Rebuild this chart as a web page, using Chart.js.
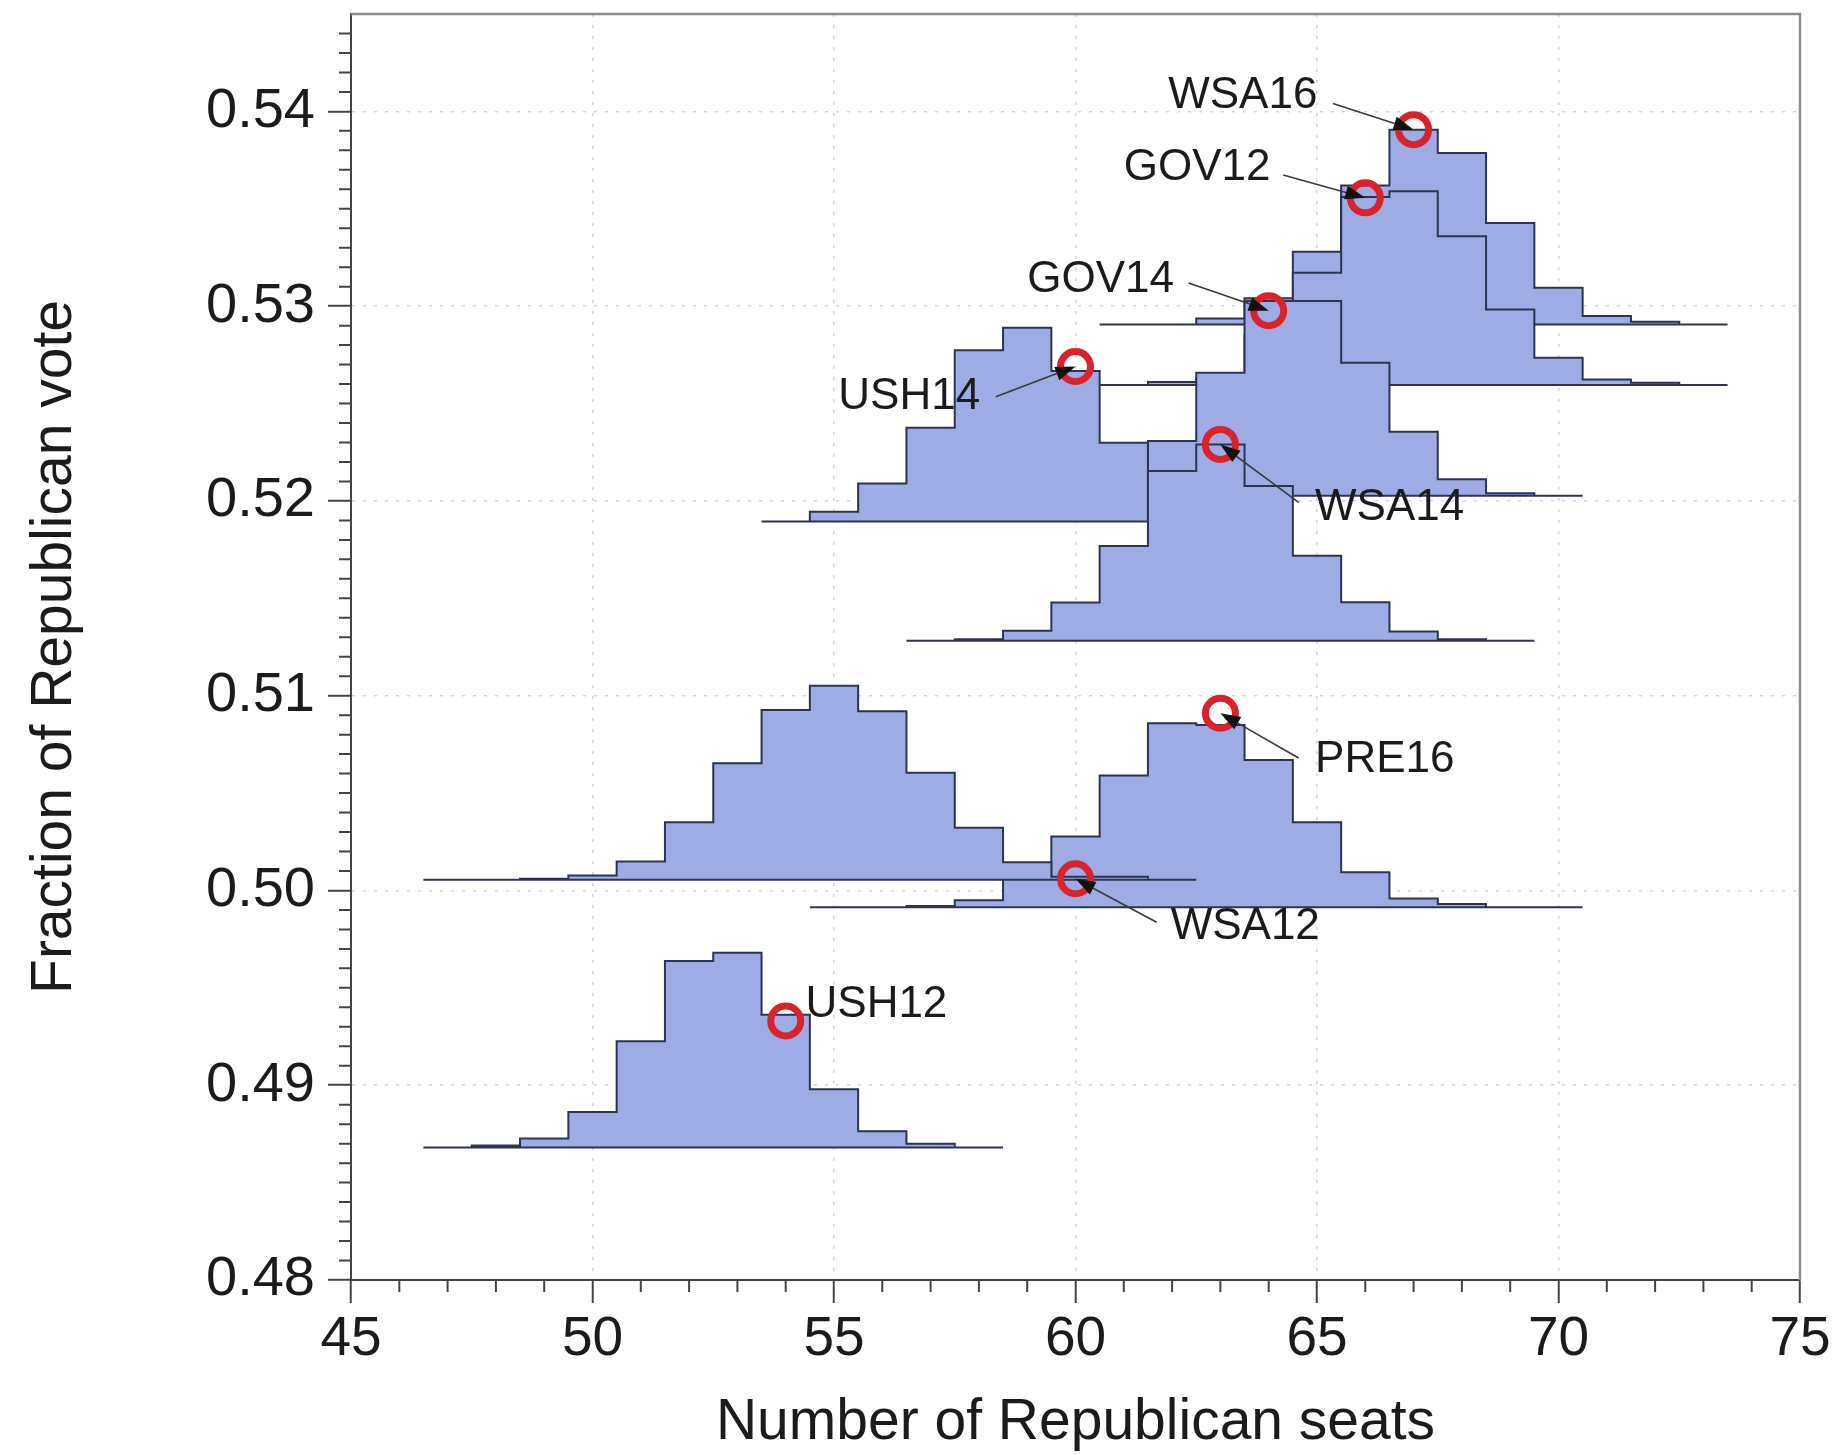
<!DOCTYPE html>
<html lang="en">
<head>
<meta charset="UTF-8">
<title>Republican seats vs vote</title>
<script src="https://cdn.jsdelivr.net/npm/chart.js@4"></script>
<style>
  body { margin: 0; background: #ffffff; }
  .chart-box { position: relative; width: 1841px; height: 1455px; }
</style>
</head>
<body>
<div class="chart-box"><canvas id="seatChart"></canvas></div>
<script>
// ---- data ----
// each histogram: vote share of its baseline, seat number of its first bin, and the top of every bin
const histNames = ['WSA16', 'GOV12', 'GOV14', 'USH14', 'WSA14', 'PRE16', 'WSA12', 'USH12'];
const histBase  = [0.52906, 0.52595, 0.52026, 0.51894, 0.51282, 0.49914, 0.50055, 0.48680];
const histFirst = [61, 61, 62, 54, 57, 55, 47, 47];

const topsWSA16 = [0.52906, 0.52906, 0.52937, 0.53040, 0.53279, 0.53620, 0.53906, 0.53786, 0.53427, 0.53094, 0.52949, 0.52920, 0.52906];
const topsGOV12 = [0.52595, 0.52610, 0.52630, 0.52850, 0.53171, 0.53560, 0.53590, 0.53359, 0.52983, 0.52735, 0.52624, 0.52607, 0.52595];
const topsGOV14 = [0.52308, 0.52658, 0.53026, 0.53026, 0.52710, 0.52355, 0.52111, 0.52040, 0.52026];
const topsUSH14 = [0.51894, 0.51944, 0.52089, 0.52376, 0.52774, 0.52889, 0.52667, 0.52299];
const topsWSA14 = [0.51282, 0.51290, 0.51333, 0.51479, 0.51769, 0.52154, 0.52290, 0.52077, 0.51718, 0.51480, 0.51330, 0.51290, 0.51282];
const topsPRE16 = [0.49914, 0.49914, 0.49920, 0.49950, 0.50070, 0.50277, 0.50590, 0.50858, 0.50850, 0.50670, 0.50350, 0.50094, 0.49959, 0.49930, 0.49914, 0.49914];
const topsWSA12 = [0.50055, 0.50055, 0.50060, 0.50077, 0.50149, 0.50350, 0.50653, 0.50927, 0.51051, 0.50920, 0.50604, 0.50322, 0.50145, 0.50070, 0.50070, 0.50055];
const topsUSH12 = [0.48680, 0.48690, 0.48727, 0.48863, 0.49226, 0.49638, 0.49680, 0.49362, 0.48979, 0.48764, 0.48700, 0.48680];
const histTops = [topsWSA16, topsGOV12, topsGOV14, topsUSH14, topsWSA14, topsPRE16, topsWSA12, topsUSH12];

// actual outcome of each election (seats, vote share)
const resultNames = ['WSA16', 'GOV12', 'GOV14', 'USH14', 'WSA14', 'PRE16', 'WSA12', 'USH12'];
const resultSeats = [67, 66, 64, 60, 63, 63, 60, 54];
const resultVote  = [0.53906, 0.53556, 0.52977, 0.52690, 0.52290, 0.50910, 0.50060, 0.49330];

// where each name is written and where its arrow starts (in axis units)
const labelSpots = [
  { text: [61.92, 0.54082], tail: [65.33, 0.54041] },
  { text: [61.00, 0.53709], tail: [64.30, 0.53673] },
  { text: [59.00, 0.53137], tail: [62.34, 0.53119] },
  { text: [55.09, 0.52535], tail: [58.35, 0.52535] },
  { text: [64.96, 0.51963], tail: [64.62, 0.51993] },
  { text: [64.96, 0.50668], tail: [64.62, 0.50680] },
  { text: [61.97, 0.49813], tail: [61.68, 0.49837] },
  { text: [54.41, 0.49415], tail: null }
];

const FONT = '"Liberation Sans", Arial, Helvetica, sans-serif';
const FILL = '#9eabe4';
const EDGE = '#2e3450';

// outline of one histogram: up the left edge, across the bin tops, down the right edge, back along the baseline
function stepPoints(first, base, tops) {
  const left = first - 0.5;
  const pts = [{ x: left, y: base }];
  tops.forEach((t, i) => pts.push({ x: left + i, y: t }));
  pts.push({ x: left + tops.length, y: base });
  pts.push({ x: left, y: base });
  return pts;
}

// later histograms in the list are painted over earlier ones
const histDatasets = histNames.map((name, i) => ({
  type: 'line',
  label: name,
  data: stepPoints(histFirst[i], histBase[i], histTops[i]),
  stepped: 'before',
  fill: 'shape',
  backgroundColor: FILL,
  borderColor: EDGE,
  borderWidth: 2,
  borderJoinStyle: 'miter',
  pointRadius: 0,
  order: 80 - 10 * i
}));

const resultDataset = {
  type: 'scatter',
  label: 'result',
  data: resultSeats.map((s, i) => ({ x: s, y: resultVote[i] })),
  pointStyle: 'circle',
  pointRadius: 15,
  pointBorderWidth: 7,
  pointBorderColor: '#d8232c',
  pointBackgroundColor: 'rgba(0,0,0,0)',
  order: 0
};

// frame top/right and the minor ticks on both axes
const frameAndTicks = {
  id: 'frameAndTicks',
  afterDraw(chart) {
    const { ctx, chartArea: a, scales: { x, y } } = chart;
    ctx.save();
    ctx.strokeStyle = '#8c8c8c';
    ctx.lineWidth = 2.5;
    ctx.beginPath();
    ctx.moveTo(a.left, a.top);
    ctx.lineTo(a.right, a.top);
    ctx.lineTo(a.right, a.bottom);
    ctx.stroke();

    ctx.strokeStyle = '#444';
    ctx.lineWidth = 2;
    ctx.beginPath();
    for (let s = 46; s < 75; s++) {
      if (s % 5 === 0) continue;
      const px = x.getPixelForValue(s);
      ctx.moveTo(px, a.bottom);
      ctx.lineTo(px, a.bottom + 12);
    }
    for (let k = 481; k < 545; k++) {
      if (k % 10 === 0) continue;
      const py = y.getPixelForValue(k / 1000);
      ctx.moveTo(a.left, py);
      ctx.lineTo(a.left - 12, py);
    }
    ctx.stroke();
    ctx.restore();
  }
};

// election names with arrows pointing at the outcome circles
const callouts = {
  id: 'callouts',
  afterDatasetsDraw(chart) {
    const { ctx, scales: { x, y } } = chart;
    ctx.save();
    resultNames.forEach((name, i) => {
      const spot = labelSpots[i];
      const hx = x.getPixelForValue(resultSeats[i]);
      const hy = y.getPixelForValue(resultVote[i]);
      if (spot.tail) {
        const tx = x.getPixelForValue(spot.tail[0]);
        const ty = y.getPixelForValue(spot.tail[1]);
        const ang = Math.atan2(hy - ty, hx - tx);
        const len = 20, half = 7;
        const bx = hx - len * Math.cos(ang);
        const by = hy - len * Math.sin(ang);
        ctx.strokeStyle = '#3a3a3a';
        ctx.lineWidth = 1.6;
        ctx.beginPath();
        ctx.moveTo(tx, ty);
        ctx.lineTo(bx, by);
        ctx.stroke();
        ctx.fillStyle = '#111';
        ctx.beginPath();
        ctx.moveTo(hx, hy);
        ctx.lineTo(bx + half * Math.sin(ang), by - half * Math.cos(ang));
        ctx.lineTo(bx - half * Math.sin(ang), by + half * Math.cos(ang));
        ctx.closePath();
        ctx.fill();
      }
      ctx.font = '44px ' + FONT;
      ctx.fillStyle = '#1b1b1b';
      ctx.textBaseline = 'middle';
      ctx.textAlign = 'left';
      ctx.fillText(name, x.getPixelForValue(spot.text[0]), y.getPixelForValue(spot.text[1]));
    });
    ctx.restore();
  }
};

new Chart(document.getElementById('seatChart'), {
  type: 'scatter',
  data: { datasets: [resultDataset, ...histDatasets] },
  options: {
    responsive: true,
    maintainAspectRatio: false,
    animation: false,
    layout: { autoPadding: false, padding: { top: 14, right: 41, left: 0, bottom: 0 } },
    plugins: {
      legend: { display: false },
      tooltip: { enabled: false },
      filler: { drawTime: 'beforeDatasetDraw' }
    },
    scales: {
      x: {
        type: 'linear',
        min: 45,
        max: 75,
        afterFit: s => { s.height = 175; },
        ticks: {
          stepSize: 5,
          padding: 4,
          color: '#1b1b1b',
          font: { family: FONT, size: 55 }
        },
        grid: {
          color: 'rgba(0,0,0,0.16)',
          lineWidth: 1.5,
          tickColor: '#444',
          tickLength: 23,
          tickWidth: 2
        },
        border: { color: '#444', width: 2, dash: [3, 8] },
        title: {
          display: true,
          text: 'Number of Republican seats',
          color: '#1b1b1b',
          font: { family: FONT, size: 57, lineHeight: 1.1 },
          padding: { top: 0, bottom: 0 }
        }
      },
      y: {
        type: 'linear',
        min: 0.48,
        max: 0.545,
        afterFit: s => { s.width = 351; s.paddingTop = 0; s.paddingBottom = 0; },
        ticks: {
          stepSize: 0.01,
          includeBounds: false,
          padding: 13,
          color: '#1b1b1b',
          font: { family: FONT, size: 56 },
          callback: v => v.toFixed(2)
        },
        grid: {
          color: 'rgba(0,0,0,0.16)',
          lineWidth: 1.5,
          tickColor: '#444',
          tickLength: 23,
          tickWidth: 2
        },
        border: { color: '#444', width: 2, dash: [3, 8] },
        title: {
          display: true,
          text: 'Fraction of Republican vote',
          color: '#1b1b1b',
          font: { family: FONT, size: 57, lineHeight: 1.1 },
          padding: { top: 24, bottom: 0 }
        }
      }
    }
  },
  plugins: [frameAndTicks, callouts]
});
</script>
</body>
</html>
